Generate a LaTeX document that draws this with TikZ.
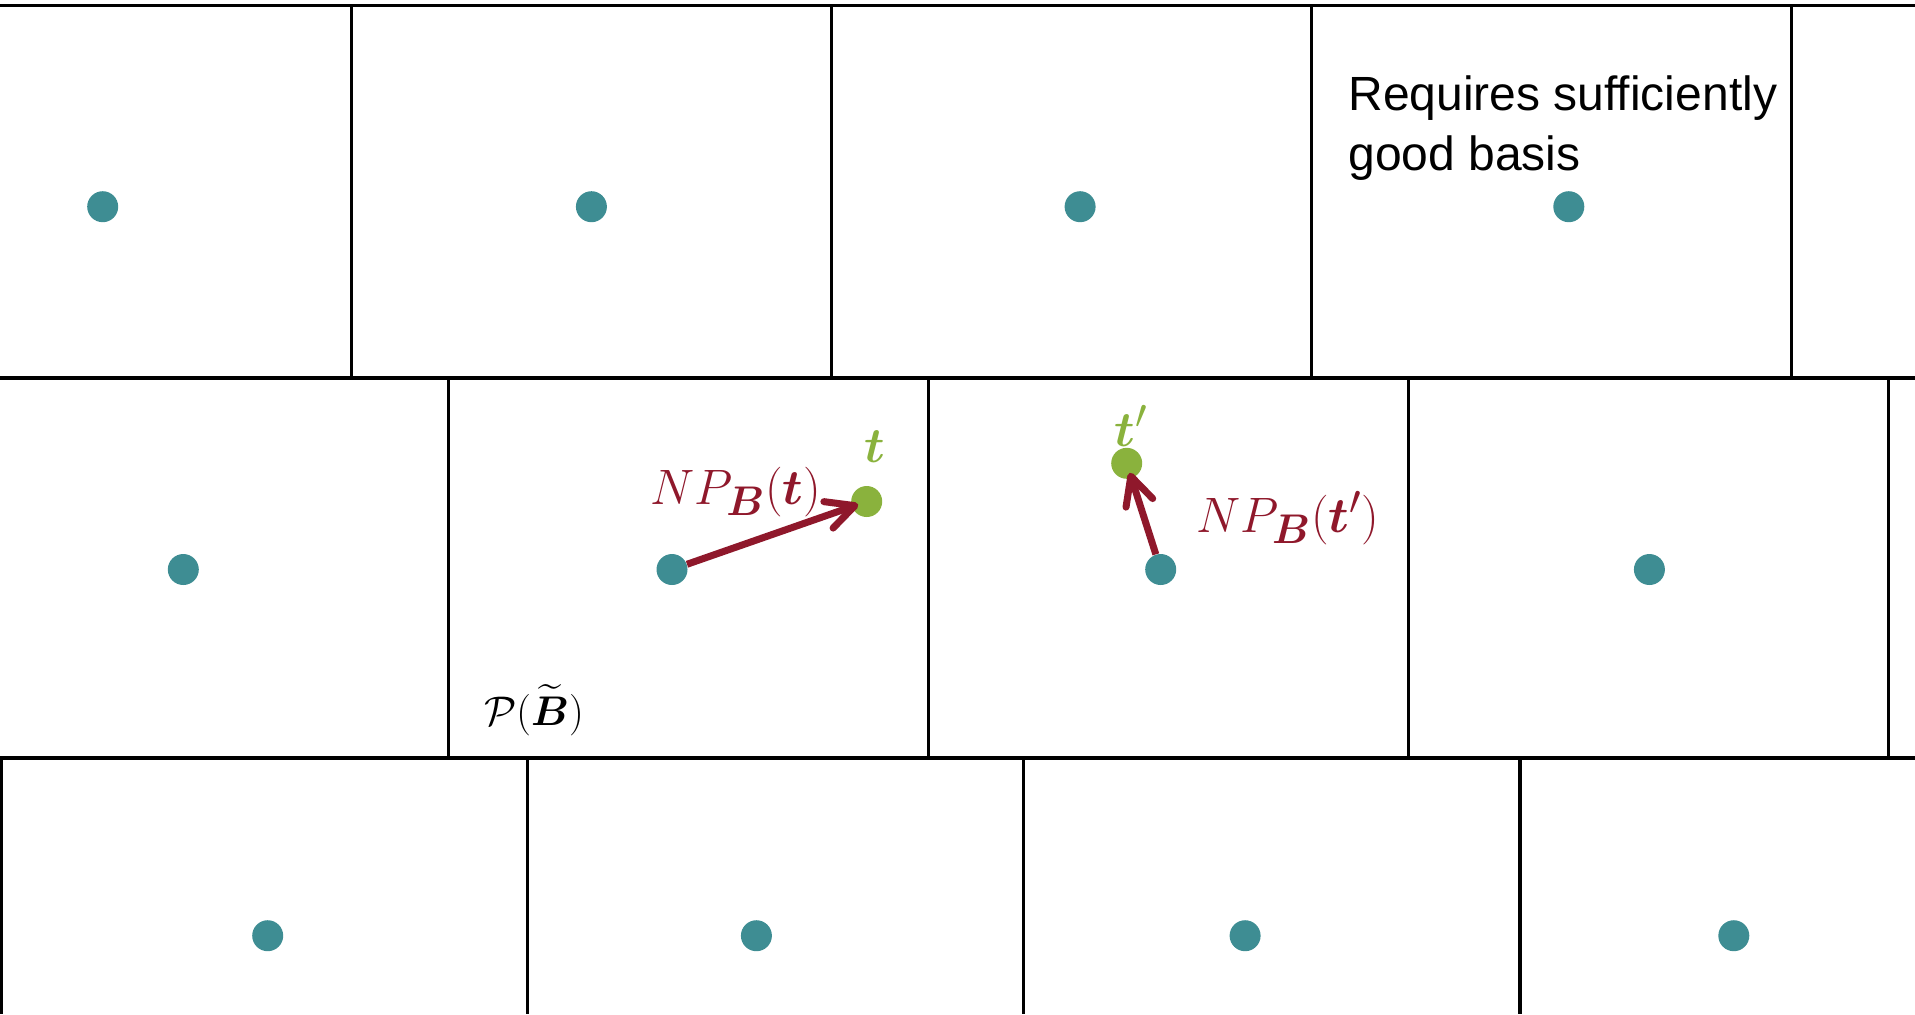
\documentclass[tikz,border=0pt]{standalone}
\usepackage{amsmath,amssymb}
\usepackage{fontspec}
\newfontfamily\notefont{Liberation Sans}
\usepackage{tikz}
\usetikzlibrary{arrows.meta,positioning}

\definecolor{latticeteal}{RGB}{62,141,147}
\definecolor{targetgreen}{RGB}{138,178,61}
\definecolor{npred}{RGB}{143,24,43}

\begin{document}
\begin{tikzpicture}[x=0.5pt,y=-0.5pt,
  cellline/.style={line width=1.65pt},
  latt/.style={circle,fill=latticeteal,inner sep=0pt,minimum size=15.5pt},
  targ/.style={circle,fill=targetgreen,inner sep=0pt,minimum size=15.5pt},
  nparrow/.style={npred,line width=3.5pt,-{Straight Barb[length=14pt,width=14pt,line cap=round,line join=round]}},
  mathlbl/.style={font=\fontsize{24.88}{30}\selectfont,inner sep=0pt}]
\useasboundingbox (0,0) rectangle (1915,1014);
% rows of translated domains
\foreach \y in {5.5,378,758}
  \draw[cellline] (0,\y) -- (1915,\y);
\foreach \x in {351.7,831.7,1311.7,1791.7}
  \draw[cellline] (\x,5.5) -- (\x,378);
\foreach \x in {448.2,928.2,1408.2,1888.2}
  \draw[cellline] (\x,378) -- (\x,758);
\foreach \x in {1.3,527.6,1023.4,1520}
  \draw[cellline] (\x,758) -- (\x,1014);
% lattice points
\foreach \r/\y/\x in {1/206.7/102.7,2/569.5/183.3,3/935.7/267.7} {
  \foreach \c in {0,...,3} {
    \node[latt] (p\r\c) at ({\x+488.7*\c},\y) {};
  }
}
% targets and rounding
\node[targ] (t) at (866.7,501.5) {};
\node[targ] (tp) at (1126.7,463.3) {};
\draw[nparrow,shorten >=4.5pt] (p21) -- (t.center);
\draw[nparrow,shorten >=5pt] (p22) -- (tp.center);
\node[mathlbl,text=targetgreen] (tlbl) at (875,447) {$\boldsymbol{t}$};
\node[mathlbl,text=targetgreen] (tplbl) at (1131,426) {$\boldsymbol{t}'$};
\node[mathlbl,text=npred] (npt) at (736,492) {$NP_{\boldsymbol{B}}(\boldsymbol{t})$};
\node[mathlbl,text=npred] (nptp) at (1288,518) {$NP_{\boldsymbol{B}}(\boldsymbol{t}')$};
\node[mathlbl,font=\fontsize{20.74}{25}\selectfont] (dom) at (534,710) {$\mathcal{P}(\widetilde{\boldsymbol{B}})$};
\node[font=\notefont\fontsize{24}{30}\selectfont,align=left,anchor=north west,inner sep=0pt] (note) at (1348,75) {Requires sufficiently\\good basis};
\end{tikzpicture}
\end{document}
